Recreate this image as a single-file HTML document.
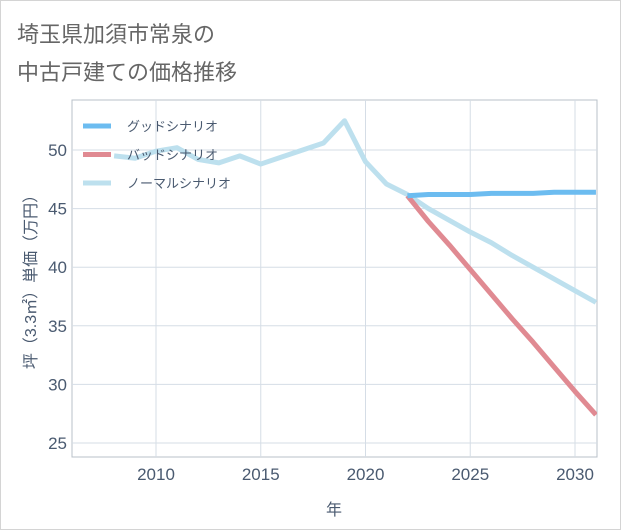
<!DOCTYPE html>
<html><head><meta charset="utf-8"><style>
body{margin:0;background:#fff;font-family:"Liberation Sans","Noto Sans CJK JP",sans-serif}
#wrap{position:relative;width:619px;height:528px;border:1px solid #d4d4d4;background:#fff}
</style></head><body>
<div id="wrap">
<svg id="chart" width="621" height="530" style="position:absolute;left:-1px;top:-1px">
<text x="17" y="42" font-size="22" fill="#666">埼玉県加須市常泉の</text>
<text x="17" y="80" font-size="22" fill="#666">中古戸建ての価格推移</text>
<g id="grid"></g><g id="series"></g><g id="legend"></g>
<text x="334" y="515" font-size="16" fill="#4a5a70" text-anchor="middle">年</text>
<text transform="translate(36,278) rotate(-90)" font-size="16" fill="#4a5a70" text-anchor="middle">坪（3.3㎡）単価（万円）</text>
</svg></div>
<script>
const years=[2008,2009,2010,2011,2012,2013,2014,2015,2016,2017,2018,2019,2020,2021,2022,2023,2024,2025,2026,2027,2028,2029,2030,2031];
const normal=[49.5,49.3,49.9,50.2,49.2,48.9,49.5,48.8,49.4,50.0,50.6,52.5,49.0,47.1,46.2,45.0,44.0,43.0,42.1,41.0,40.0,39.0,38.0,37.0];
const goodYears=[2022,2023,2024,2025,2026,2027,2028,2029,2030,2031];
const good=[46.1,46.2,46.2,46.2,46.3,46.3,46.3,46.4,46.4,46.4];
const bad=[46.1,43.9,41.9,39.8,37.7,35.6,33.6,31.5,29.4,27.4];
const xTicks=[2010,2015,2020,2025,2030];
const yTicks=[25,30,35,40,45,50];
const NS="http://www.w3.org/2000/svg";
const L=72,R=597,T=100,B=457;
const x=v=>156+(v-2010)*(575-156)/20;
const y=v=>150+(50-v)*(443-150)/25;
function mk(t,a,p){const e=document.createElementNS(NS,t);for(const k in a)e.setAttribute(k,a[k]);p.appendChild(e);return e;}
const g=document.getElementById('grid');
mk('rect',{x:L,y:T,width:R-L,height:B-T,fill:'none',stroke:'#b8c0c8'},g);
xTicks.forEach(t=>{const l=mk('line',{x1:x(t),x2:x(t),y1:T,y2:B,stroke:'#d5dde6'},g);


const tx=mk('text',{x:x(t),y:480,'font-size':17,fill:'#4a5a70','text-anchor':'middle'},g);tx.textContent=t;

});
yTicks.forEach(t=>{const l=mk('line',{x1:L,x2:R,y1:y(t),y2:y(t),stroke:'#d5dde6'},g);


const tx=mk('text',{x:67,y:y(t)+6,'font-size':17,fill:'#4a5a70','text-anchor':'end'},g);tx.textContent=t;

});
const s=document.getElementById('series');
const clip=mk('clipPath',{id:'c'},s);mk('rect',{x:L,y:T,width:R-L,height:B-T},clip);
function line(xs,ys,col,name){const p=mk('polyline',{points:xs.map((v,i)=>x(v)+','+y(ys[i])).join(' '),fill:'none',stroke:col,'stroke-width':5,'stroke-linejoin':'round','clip-path':'url(#c)'},s);

}
line(years,normal,'#bde0ee','normal-scenario-line');
line(goodYears,bad,'#e08a92','bad-scenario-line');
line(goodYears,good,'#6cbcf0','good-scenario-line');
const lg=document.getElementById('legend');
[['グッドシナリオ','#6cbcf0','legend-good'],['バッドシナリオ','#e08a92','legend-bad'],['ノーマルシナリオ','#bde0ee','legend-normal']].forEach((d,i)=>{
const yy=126+i*28.5;
const gg=mk('g',{},lg);


mk('line',{x1:83,x2:111,y1:yy,y2:yy,stroke:d[1],'stroke-width':5},gg);
const t=mk('text',{x:127,y:yy+5,'font-size':13,fill:'#4a5a70'},gg);t.textContent=d[0];});
</script></body></html>
